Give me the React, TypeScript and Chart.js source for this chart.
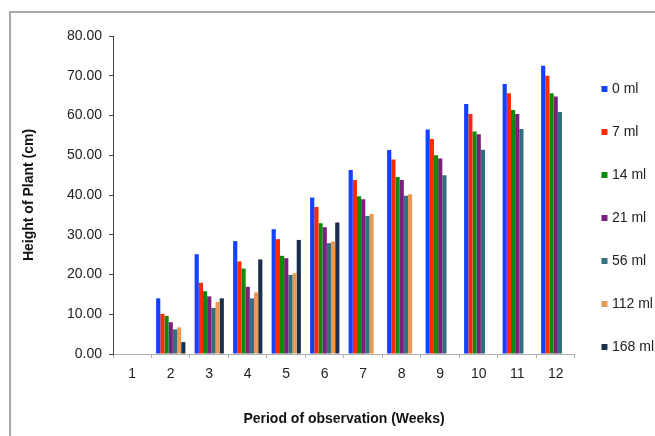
import React, { useEffect, useRef } from "react";
import { Chart, registerables } from "chart.js";

Chart.register(...registerables);

const weeks = ["1", "2", "3", "4", "5", "6", "7", "8", "9", "10", "11", "12"];
const seriesNames = ["0 ml", "7 ml", "14 ml", "21 ml", "56 ml", "112 ml", "168 ml"];
const ml0 = [0, 14.0, 25.1, 28.4, 31.4, 39.4, 46.3, 51.3, 56.5, 62.9, 67.9, 72.5];
const ml7 = [0, 10.1, 17.9, 23.3, 28.9, 37.0, 43.8, 48.9, 54.1, 60.4, 65.6, 70.0];
const ml14 = [0, 9.6, 15.8, 21.5, 24.7, 32.9, 39.7, 44.5, 50.0, 56.0, 61.4, 65.6];
const ml21 = [0, 8.0, 14.5, 16.9, 24.1, 31.9, 38.9, 43.8, 49.2, 55.3, 60.4, 64.8];
const ml56 = [0, 6.2, 11.6, 14.0, 19.9, 27.9, 34.7, 39.8, 45.0, 51.4, 56.6, 60.9];
const ml112 = [0, 6.7, 13.1, 15.5, 20.3, 28.3, 35.2, 40.2, null, null, null, null];
const ml168 = [0, 3.0, 14.0, 23.8, 28.7, 33.1, null, null, null, null, null, null];
const colors = ["#1440ff", "#ff2a00", "#0a8c0a", "#7a1f7e", "#33707f", "#e89a55", "#1b2f4d"];

const FONT = "'Liberation Sans', Arial, Helvetica, sans-serif";

export default function App() {
  const ref = useRef<HTMLCanvasElement | null>(null);

  useEffect(() => {
    if (!ref.current) return;
    const all = [ml0, ml7, ml14, ml21, ml56, ml112, ml168];
    const chart = new Chart(ref.current, {
      type: "bar",
      data: {
        labels: weeks,
        datasets: all.map((d, i) => ({
          label: seriesNames[i],
          data: d,
          backgroundColor: colors[i],
          borderWidth: 0,
          categoryPercentage: 0.76,
          barPercentage: 1.0,
        })),
      },
      options: {
        responsive: false,
        animation: false,
        layout: { padding: 0 },
        plugins: {
          title: {
            display: true,
            text: "",
            font: { size: 10, family: FONT },
            padding: { top: 12, bottom: 12 },
          },
          legend: {
            position: "right",
            align: "center",
            labels: {
              usePointStyle: true,
              pointStyle: "rect",
              boxWidth: 1,
              boxHeight: 6,
              padding: 29,
              color: "#222",
              font: { size: 14, family: FONT },
            },
          },
          tooltip: { enabled: false },
        },
        scales: {
          x: {
            afterFit: (s: any) => {
              s.height = 82;
            },
            grid: {
              display: true,
              drawOnChartArea: false,
              drawTicks: true,
              tickLength: 4,
              color: "#b0b0b0",
            },
            border: { display: true, color: "#b0b0b0", width: 1 },
            ticks: { color: "#222", padding: 8, font: { size: 14, family: FONT } },
            title: {
              display: true,
              text: "Period of observation (Weeks)",
              color: "#111",
              font: { size: 14, weight: "bold", family: FONT },
              padding: { top: 4, bottom: 8 },
            },
          },
          y: {
            min: 0,
            max: 80,
            afterFit: (s: any) => {
              s.width = 113;
            },
            grid: {
              display: true,
              drawOnChartArea: false,
              drawTicks: true,
              tickLength: 4,
              color: "#444",
            },
            border: { display: true, color: "#444", width: 1 },
            ticks: {
              stepSize: 10,
              color: "#222",
              padding: 7,
              font: { size: 14, family: FONT },
              callback: (v: any) => Number(v).toFixed(2),
            },
            title: {
              display: true,
              text: "Height of Plant (cm)",
              color: "#111",
              font: { size: 14, weight: "bold", family: FONT },
              padding: { top: 21, bottom: 0 },
            },
          },
        },
      },
    });
    return () => chart.destroy();
  }, []);

  return (
    <div
      style={{
        position: "fixed",
        left: 0,
        top: 0,
        width: 655,
        height: 436,
        overflow: "hidden",
        background: "#fff",
      }}
    >
      <div
        style={{
          position: "absolute",
          left: 9,
          top: 11,
          width: 720,
          height: 520,
          borderTop: "2px solid #a8a8a8",
          borderLeft: "2px solid #a8a8a8",
        }}
      />
      <canvas
        ref={ref}
        width={664}
        height={436}
        style={{ position: "absolute", left: 0, top: 0, width: 664, height: 436 }}
      />
    </div>
  );
}
